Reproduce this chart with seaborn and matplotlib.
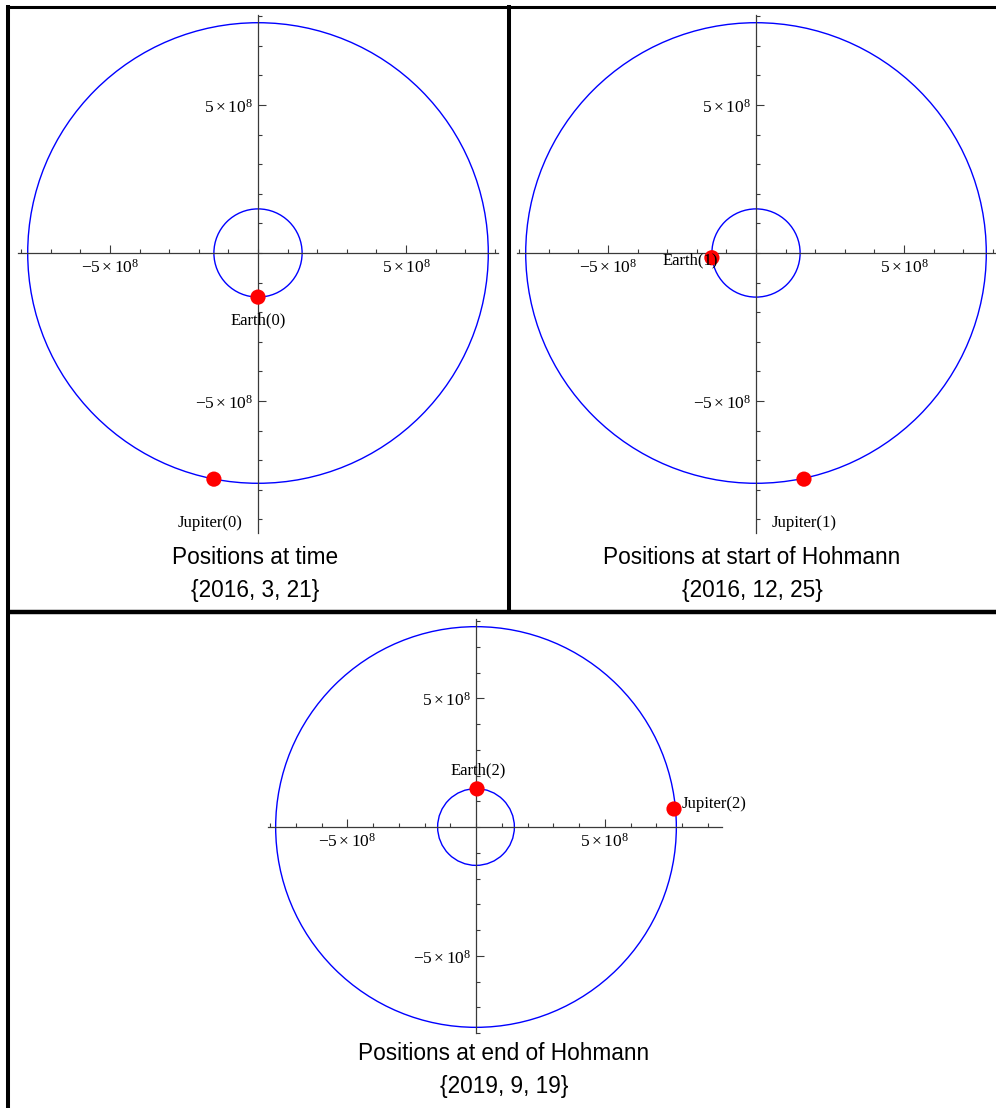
import matplotlib
matplotlib.use("Agg")
import matplotlib.pyplot as plt
import seaborn as sns
import pandas as pd
from matplotlib.patches import Circle
from matplotlib.lines import Line2D
from matplotlib.ticker import FixedLocator, FixedFormatter

sns.set_theme(style="white")
plt.rcParams['font.family'] = ['Liberation Sans', 'DejaVu Sans']
plt.rcParams['text.color'] = 'black'
plt.rcParams['mathtext.fontset'] = 'custom'
plt.rcParams['mathtext.rm'] = 'Liberation Serif'
plt.rcParams['mathtext.it'] = 'Liberation Serif:italic'

# radios de las orbitas (km)
r_earth = 1.49e8
r_jupiter = 7.78e8

# textos de cada panel
titles = ["Positions at time", "Positions at start of Hohmann", "Positions at end of Hohmann"]
dates = ["{2016, 3, 21}", "{2016, 12, 25}", "{2019, 9, 19}"]

# posiciones de los planetas
earth_x = [0.0, -1.49e8, 0.04e8]
earth_y = [-1.49e8, -0.16e8, 1.48e8]
jupiter_x = [-1.49e8, 1.62e8, 7.69e8]
jupiter_y = [-7.64e8, -7.64e8, 0.70e8]

# posiciones de las etiquetas
earth_lbl_x = [0.0, -2.23e8, 0.08e8]
earth_lbl_y = [-2.26e8, -0.26e8, 2.21e8]
jupiter_lbl_x = [-1.63e8, 1.62e8, 9.24e8]
jupiter_lbl_y = [-9.13e8, -9.12e8, 0.89e8]

major_ticks = [-5e8, 5e8]
major_labels = [r'$-5\times10^{8}$', r'$5\times10^{8}$']
minor_ticks = [k * 1e8 for k in range(-9, 10)]

W, H = 996, 1108
fig = plt.figure(figsize=(W / 100, H / 100), dpi=100)

# origen en pixeles, pixeles por 1e8, limites
layout = [
    dict(ox=258, oy=253, s=29.6, xlim=(-8.11e8, 8.11e8), ylim=(-9.46e8, 8.05e8), tx=255, ty=557, dy=590),
    dict(ox=756, oy=253, s=29.6, xlim=(-8.07e8, 8.11e8), ylim=(-9.46e8, 8.05e8), tx=752, ty=557, dy=590),
    dict(ox=476, oy=827, s=25.75, xlim=(-8.08e8, 9.55e8), ylim=(-8.0e8, 8.08e8), tx=504, ty=1053, dy=1086),
]

for i, L in enumerate(layout):
    s = L['s']
    left = L['ox'] + L['xlim'][0] / 1e8 * s
    right = L['ox'] + L['xlim'][1] / 1e8 * s
    top = L['oy'] - L['ylim'][1] / 1e8 * s
    bottom = L['oy'] - L['ylim'][0] / 1e8 * s
    ax = fig.add_axes([left / W, 1 - bottom / H, (right - left) / W, (bottom - top) / H])
    ax.set_xlim(*L['xlim'])
    ax.set_ylim(*L['ylim'])
    ax.patch.set_alpha(0)

    for sp in ['top', 'right']:
        ax.spines[sp].set_visible(False)
    for sp in ['left', 'bottom']:
        ax.spines[sp].set_position(('data', 0))
        ax.spines[sp].set_color('#3a3a3a')
        ax.spines[sp].set_linewidth(0.9)

    for axis in [ax.xaxis, ax.yaxis]:
        axis.set_major_locator(FixedLocator(major_ticks))
        axis.set_major_formatter(FixedFormatter(major_labels))
        axis.set_minor_locator(FixedLocator(minor_ticks))
    ax.tick_params(which='both', bottom=True, left=True, top=False, right=False)
    ax.tick_params(which='major', direction='in', length=5.5, width=0.8, color='#3a3a3a',
                   labelsize=12.5, labelcolor='black', pad=3.5)
    ax.tick_params(which='minor', direction='in', length=3.2, width=0.8, color='#3a3a3a')

    # orbitas
    ax.add_patch(Circle((0, 0), r_earth, fill=False, color='#0000ff', lw=1.0, zorder=2))
    ax.add_patch(Circle((0, 0), r_jupiter, fill=False, color='#0000ff', lw=1.0, zorder=2))

    # planetas
    df = pd.DataFrame({'x': [earth_x[i], jupiter_x[i]], 'y': [earth_y[i], jupiter_y[i]]})
    sns.scatterplot(data=df, x='x', y='y', ax=ax, color='#ff0000', s=120,
                    edgecolor='none', legend=False, zorder=4, clip_on=False)
    ax.set_xlabel('')
    ax.set_ylabel('')

    ax.text(earth_lbl_x[i], earth_lbl_y[i], 'Earth(%d)' % i, ha='center', va='center',
            family='Liberation Serif', fontsize=12, color='black', zorder=5)
    ax.text(jupiter_lbl_x[i], jupiter_lbl_y[i], 'Jupiter(%d)' % i, ha='center', va='center',
            family='Liberation Serif', fontsize=12, color='black', zorder=5)

    fig.text(L['tx'] / W, 1 - L['ty'] / H, titles[i], ha='center', va='center', fontsize=16.3, color='black')
    fig.text(L['tx'] / W, 1 - L['dy'] / H, dates[i], ha='center', va='center', fontsize=16.3, color='black')

# marco de la cuadricula
def linea(x0, y0, x1, y1, lw):
    fig.add_artist(Line2D([x0 / W, x1 / W], [1 - y0 / H, 1 - y1 / H], color='black',
                          lw=lw, solid_capstyle='butt', transform=fig.transFigure))

linea(8, 5, 8, H, 2.9)
linea(6, 6.5, W, 6.5, 2.2)
linea(508.5, 5, 508.5, 611.5, 2.9)
linea(6, 611.5, W, 611.5, 3.2)

fig.savefig('out.png', dpi=100)
